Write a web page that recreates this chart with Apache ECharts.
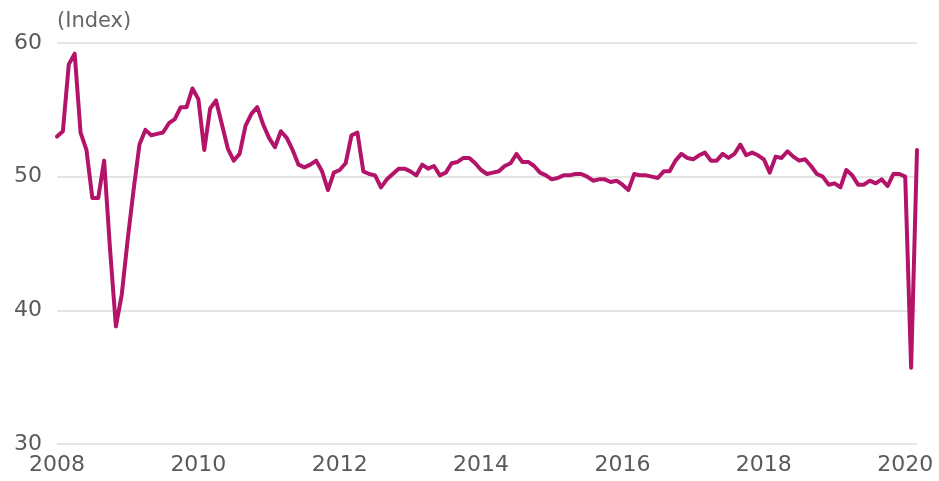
<!DOCTYPE html>
<html>
<head>
<meta charset="utf-8">
<script src="https://cdn.jsdelivr.net/npm/echarts@6/dist/echarts.min.js"></script>
<style>html,body{margin:0;padding:0;background:#fff}#c{width:939px;height:481px}</style>
</head>
<body>
<div id="c"></div>
<script>
// Monthly index values, Jan 2008 – Mar 2020
const years = [2008,2009,2010,2011,2012,2013,2014,2015,2016,2017,2018,2019,2020];
const v2008 = [53.0,53.4,58.4,59.2,53.3,52.0,48.4,48.4,51.2,44.6,38.8,41.2];
const v2009 = [45.3,49.0,52.4,53.5,53.1,53.2,53.3,54.0,54.3,55.2,55.2,56.6];
const v2010 = [55.8,52.0,55.1,55.7,53.9,52.1,51.2,51.7,53.8,54.7,55.2,53.9];
const v2011 = [52.9,52.2,53.4,52.9,52.0,50.9,50.7,50.9,51.2,50.4,49.0,50.3];
const v2012 = [50.5,51.0,53.1,53.3,50.4,50.2,50.1,49.2,49.8,50.2,50.6,50.6];
const v2013 = [50.4,50.1,50.9,50.6,50.8,50.1,50.3,51.0,51.1,51.4,51.4,51.0];
const v2014 = [50.5,50.2,50.3,50.4,50.8,51.0,51.7,51.1,51.1,50.8,50.3,50.1];
const v2015 = [49.8,49.9,50.1,50.1,50.2,50.2,50.0,49.7,49.8,49.8,49.6,49.7];
const v2016 = [49.4,49.0,50.2,50.1,50.1,50.0,49.9,50.4,50.4,51.2,51.7,51.4];
const v2017 = [51.3,51.6,51.8,51.2,51.2,51.7,51.4,51.7,52.4,51.6,51.8,51.6];
const v2018 = [51.3,50.3,51.5,51.4,51.9,51.5,51.2,51.3,50.8,50.2,50.0,49.4];
const v2019 = [49.5,49.2,50.5,50.1,49.4,49.4,49.7,49.5,49.8,49.3,50.2,50.2];
const v2020 = [50.0,35.7,52.0];
const yTicks = [30,40,50,60];
const unitLabel = '(Index)';

const series = [v2008,v2009,v2010,v2011,v2012,v2013,v2014,v2015,v2016,v2017,v2018,v2019,v2020];
const categories = [];
const values = [];
series.forEach((arr, i) => {
  arr.forEach((v, m) => {
    categories.push(years[i] + '-' + String(m + 1).padStart(2, '0'));
    values.push(v);
  });
});

const chart = echarts.init(document.getElementById('c'));
chart.setOption({
  animation: false,
  backgroundColor: '#fff',
  textStyle: { fontFamily: 'DejaVu Sans' },
  grid: { left: 57, right: 22, top: 43, bottom: 37, containLabel: false },
  graphic: [{
    type: 'text', left: 57, top: 11,
    style: { text: unitLabel, fill: '#666', font: '21px "DejaVu Sans"' }
  }],
  xAxis: {
    type: 'category',
    data: categories,
    boundaryGap: false,
    axisLine: { show: false },
    axisTick: { show: false },
    splitLine: { show: false },
    axisLabel: {
      interval: (idx) => idx % 24 === 0,
      formatter: (val) => val.slice(0, 4),
      color: '#5a5a5a',
      fontSize: 22,
      margin: 10,
      align: 'center',
      alignMinLabel: 'center',
      alignMaxLabel: 'center',
      hideOverlap: false,
      fontFamily: 'DejaVu Sans'
    }
  },
  yAxis: {
    type: 'value',
    min: yTicks[0],
    max: yTicks[yTicks.length - 1],
    interval: 10,
    axisLine: { show: false },
    axisTick: { show: false },
    splitLine: { lineStyle: { color: '#dcdcdc', width: 1.5 } },
    axisLabel: {
      color: '#5a5a5a',
      fontSize: 22,
      margin: 15,
      hideOverlap: false,
      fontFamily: 'DejaVu Sans'
    }
  },
  series: [{
    type: 'line',
    data: values,
    showSymbol: false,
    symbol: 'none',
    lineStyle: { color: '#b4136a', width: 4, join: 'round', cap: 'round' },
    itemStyle: { color: '#b4136a' }
  }]
});
</script>
</body>
</html>
